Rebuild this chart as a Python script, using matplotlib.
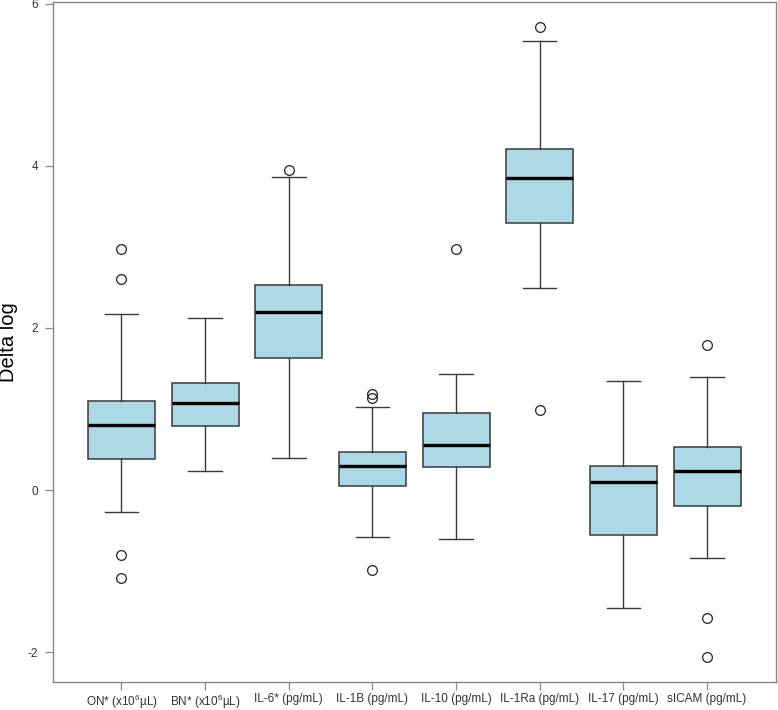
import matplotlib
matplotlib.use('Agg')
import matplotlib.pyplot as plt

plt.rcParams['font.family'] = ['Liberation Sans', 'DejaVu Sans']
plt.rcParams['mathtext.fontset'] = 'custom'
plt.rcParams['mathtext.rm'] = 'Liberation Sans'

# Tick labels
labels = [r'ON* (x10$^{6}$µL)', r'BN* (x10$^{6}$µL)', 'IL-6* (pg/mL)', 'IL-1B (pg/mL)',
          'IL-10 (pg/mL)', 'IL-1Ra (pg/mL)', 'IL-17 (pg/mL)', 'sICAM (pg/mL)']

# Box statistics (delta log)
whisker_low = [-0.27, 0.23, 0.40, -0.58, -0.61, 2.49, -1.46, -0.84]
q1 = [0.38, 0.79, 1.63, 0.05, 0.28, 3.29, -0.55, -0.20]
median = [0.80, 1.07, 2.20, 0.30, 0.56, 3.85, 0.10, 0.24]
q3 = [1.10, 1.32, 2.53, 0.47, 0.95, 4.21, 0.30, 0.53]
whisker_high = [2.17, 2.12, 3.86, 1.02, 1.43, 5.54, 1.34, 1.39]
outliers = [
    [2.97, 2.60, -0.80, -1.08],
    [],
    [3.95],
    [1.19, 1.14, -0.99],
    [2.98],
    [5.72, 0.99],
    [],
    [1.79, -1.58, -2.06],
]

stats = []
for i in range(len(labels)):
    stats.append({
        'whislo': whisker_low[i], 'q1': q1[i], 'med': median[i],
        'q3': q3[i], 'whishi': whisker_high[i], 'fliers': outliers[i],
    })

fig = plt.figure(figsize=(7.78, 7.10), dpi=100)
ax = fig.add_axes([0.068, 0.0394, 0.929, 0.958])

edge = '#3a3a3a'
ax.bxp(stats, positions=range(1, 9), widths=0.8, patch_artist=True,
       boxprops=dict(facecolor='#add8e6', edgecolor=edge, linewidth=1.1),
       medianprops=dict(color='black', linewidth=2.4, solid_capstyle='butt'),
       whiskerprops=dict(color=edge, linewidth=1.0),
       capprops=dict(color=edge, linewidth=1.0),
       capwidths=0.4,
       flierprops=dict(marker='o', markerfacecolor='none', markeredgecolor='#222222',
                       markersize=7, markeredgewidth=0.9, linestyle='none'))

ax.set_xlim(0.18, 8.82)
ax.set_ylim(-2.37, 6.025)
ax.set_yticks([-2, 0, 2, 4, 6])
ax.set_yticklabels(['-2', '0', '2', '4', '6'])
ax.set_xticks(range(1, 9))
ax.set_xticklabels(labels)

for sp in ax.spines.values():
    sp.set_color('#888888')
    sp.set_linewidth(1.0)
ax.tick_params(axis='both', direction='out', length=5.5, width=0.9, color='#888888',
               labelsize=8.5, labelcolor='#333333')
ax.tick_params(axis='x', pad=2.5)
ax.tick_params(axis='y', pad=5)
ax.set_ylabel('Delta log', fontsize=14.5)
ax.yaxis.set_label_coords(-0.048, 0.5)

fig.savefig('out.png', dpi=100)
